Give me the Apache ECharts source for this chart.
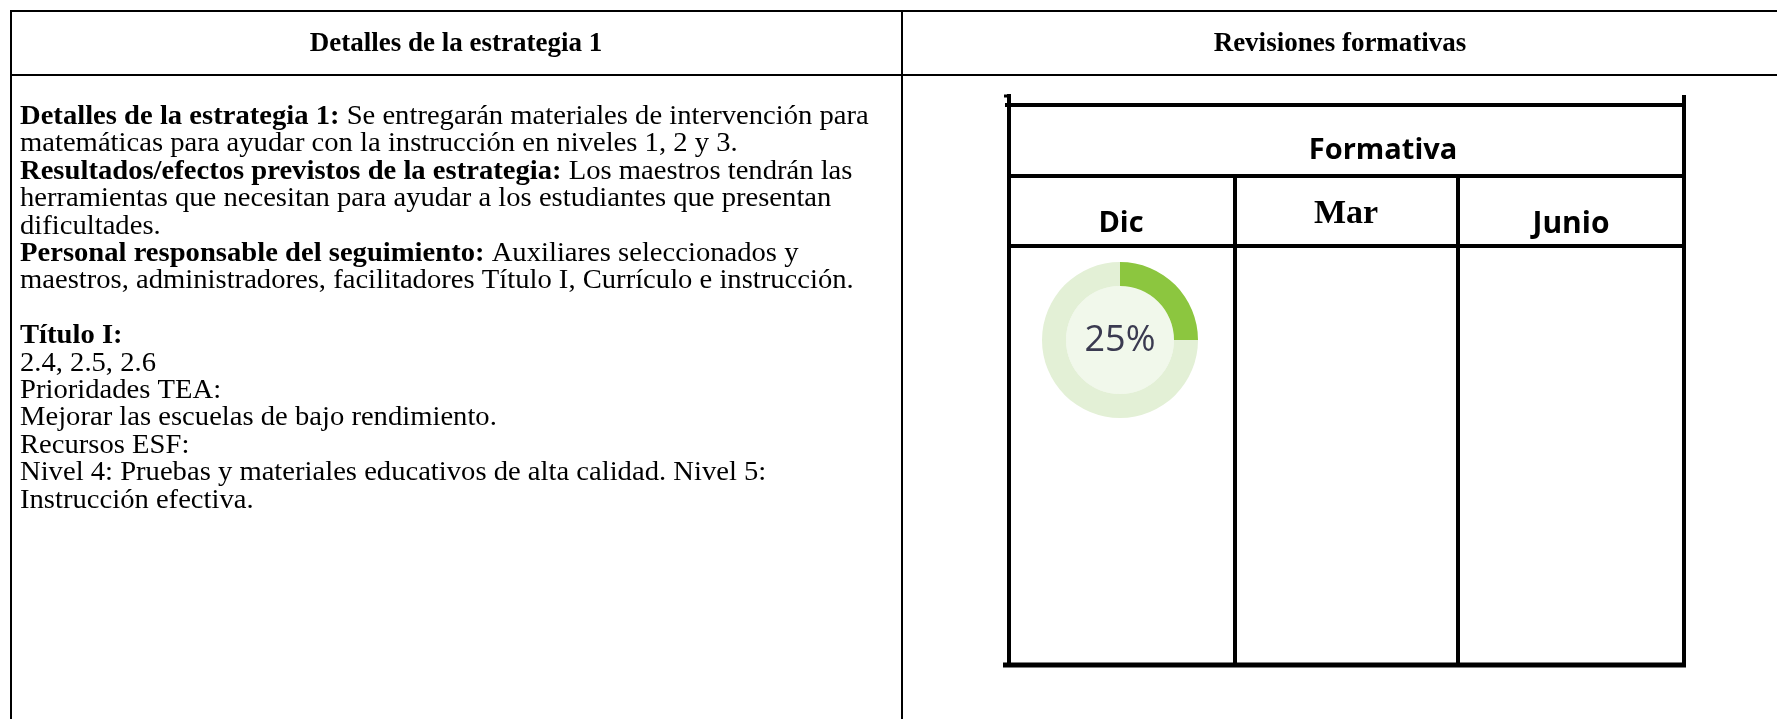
<!DOCTYPE html>
<html>
<head>
<meta charset="utf-8">
<script src="https://cdn.jsdelivr.net/npm/echarts@6/dist/echarts.min.js"></script>
<style>
  html, body { margin: 0; padding: 0; background: #ffffff; }
  #chart { width: 1777px; height: 719px; }
</style>
</head>
<body>
<div id="chart"></div>
<script>
// ---- data ----
const headerLeft = 'Detalles de la estrategia 1';
const headerRight = 'Revisiones formativas';
const detailBold = [
  'Detalles de la estrategia 1:', '', 'Resultados/efectos previstos de la estrategia:', '', '',
  'Personal responsable del seguimiento:', '', '', 'Título I:', '', '', '', '', '', ''
];
const detailText = [
  ' Se entregarán materiales de intervención para',
  'matemáticas para ayudar con la instrucción en niveles 1, 2 y 3.',
  ' Los maestros tendrán las',
  'herramientas que necesitan para ayudar a los estudiantes que presentan',
  'dificultades.',
  ' Auxiliares seleccionados y',
  'maestros, administradores, facilitadores Título I, Currículo e instrucción.',
  '',
  '',
  '2.4, 2.5, 2.6',
  'Prioridades TEA:',
  'Mejorar las escuelas de bajo rendimiento.',
  'Recursos ESF:',
  'Nivel 4: Pruebas y materiales educativos de alta calidad. Nivel 5:',
  'Instrucción efectiva.'
];
const formativeTitle = 'Formativa';
const months = ['Dic', 'Mar', 'Junio'];
const progressDone = [25];      // Dic
const progressTotal = 100;

// ---- layout ----
const SERIF = '"Liberation Serif", "Times New Roman", serif';
const SANS = '"Open Sans", "Noto Sans", sans-serif';
const graphics = [];
function line(x1, y1, x2, y2, w) {
  graphics.push({ type: 'line', silent: true, shape: { x1, y1, x2, y2 },
    style: { stroke: '#000', lineWidth: w } });
}
// outer table
line(10, 11, 1777, 11, 2);
line(10, 75, 1777, 75, 2);
line(11, 10, 11, 719, 2);
line(902, 10, 902, 719, 2);

graphics.push({ type: 'text', silent: true, style: { text: headerLeft, x: 456, y: 44,
  textAlign: 'center', textVerticalAlign: 'middle', fontFamily: SERIF, fontWeight: 'bold',
  fontSize: 27, fill: '#000' } });
graphics.push({ type: 'text', silent: true, style: { text: headerRight, x: 1340, y: 44,
  textAlign: 'center', textVerticalAlign: 'middle', fontFamily: SERIF, fontWeight: 'bold',
  fontSize: 27, fill: '#000' } });

const BODY = 27;
const rich = {
  b: { fontFamily: SERIF, fontWeight: 'bold', fontSize: BODY, fill: '#000' },
  n: { fontFamily: SERIF, fontWeight: 'normal', fontSize: BODY, fill: '#000' }
};
detailText.forEach(function (t, i) {
  let s = '';
  if (detailBold[i]) s += '{b|' + detailBold[i] + '}';
  if (t) s += '{n|' + t + '}';
  if (!s) return;
  graphics.push({ type: 'text', silent: true, x: 20, y: 117 + i * 27.4, scaleX: 1.06,
    style: { text: s, rich: rich, x: 0, y: 0,
    textAlign: 'left', textVerticalAlign: 'middle', fontFamily: SERIF, fontSize: BODY, fill: '#000' } });
});

// inner formative table
const colX = [1009, 1235, 1458, 1684];
const innerBottom = 665;
line(1005, 105, 1686, 105, 4);
line(1007, 176, 1686, 176, 4);
line(1007, 246, 1686, 246, 4);
line(1003, innerBottom, 1686, innerBottom, 5);
line(colX[0], 94, colX[0], innerBottom + 2, 4);
line(colX[3], 95, colX[3], innerBottom + 2, 4);
line(colX[1], 176, colX[1], innerBottom + 2, 4);
line(colX[2], 176, colX[2], innerBottom + 2, 4);
line(1004, 96, 1009, 96, 3);

graphics.push({ type: 'text', silent: true, style: { text: formativeTitle, x: 1383, y: 151,
  textAlign: 'center', textVerticalAlign: 'middle', fontFamily: SANS, fontWeight: 'bold',
  fontSize: 29, fill: '#000' } });
const monthStyle = [
  { font: SANS, size: 29, y: 224, cx: 1121 },
  { font: SERIF, size: 34, y: 214, cx: 1346 },
  { font: SANS, size: 30, y: 224, cx: 1571 }
];
months.forEach(function (m, i) {
  const st = monthStyle[i];
  graphics.push({ type: 'text', silent: true, style: { text: m,
    x: st.cx, y: st.y,
    textAlign: 'center', textVerticalAlign: 'middle', fontFamily: st.font, fontWeight: 'bold',
    fontSize: st.size, fill: '#000' } });
});

const donutCenter = [1120, 340];
graphics.push({ type: 'text', silent: true, z: 100, style: { text: progressDone[0] + '%',
  x: donutCenter[0], y: donutCenter[1] + 1, textAlign: 'center', textVerticalAlign: 'middle',
  fontFamily: SANS, fontSize: 36, fill: '#3a3a50' } });

const chart = echarts.init(document.getElementById('chart'), null, { renderer: 'canvas' });
chart.setOption({
  animation: false,
  backgroundColor: '#ffffff',
  graphic: graphics,
  series: [
    {
      type: 'pie', silent: true, center: donutCenter, radius: [0, 54],
      label: { show: false }, labelLine: { show: false },
      data: [{ value: progressTotal, itemStyle: { color: '#f1f8eb' } }]
    },
    {
      type: 'pie', silent: true, center: donutCenter, radius: [54, 78], startAngle: 90,
      clockwise: true, label: { show: false }, labelLine: { show: false },
      itemStyle: { borderWidth: 0 },
      data: [
        { value: progressDone[0], itemStyle: { color: '#8cc63f' } },
        { value: progressTotal - progressDone[0], itemStyle: { color: '#e3f0d6' } }
      ]
    }
  ]
});
</script>
</body>
</html>
